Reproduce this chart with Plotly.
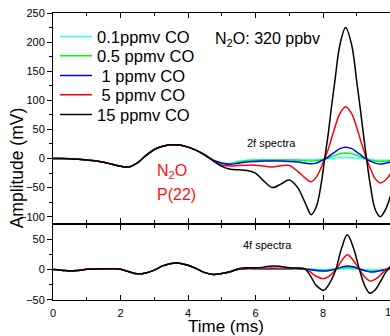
import plotly.graph_objects as go

# ---------------- data ----------------
series_names = ["0.1ppmv CO", "0.5 ppmv CO", " 1 ppmv CO", " 5 ppmv CO", "15 ppmv CO"]
series_colors = ["#33FFFF", "#00FF00", "#0000FF", "#FF0000", "#000000"]

# shared part (all concentrations overlap) for t <= 4.5 ms
t_head = [0, 0.25, 0.5, 0.75, 1.0, 1.25, 1.5, 1.75, 2.0, 2.25, 2.5, 2.75, 3.0,
          3.25, 3.5, 3.75, 4.0, 4.25, 4.5]
amp2f_head = [0, 0, -0.5, -1.5, -2.5, -4, -6.5, -10, -13.5, -14.5, -7.5, 5, 15.5,
              21, 23.5, 23, 19.5, 14, 6]
amp4f_head = [0, -1, -2.5, -1.5, 0.5, 1, 1.2, 1.2, 0.5, -3.5, -7, -5.5, -1,
              6, 10, 10.5, 7, 1.5, -5]

# 2f spectra, t > 4.5 ms
t_tail_2f = [4.75, 5.0, 5.25, 5.5, 5.75, 6.0, 6.25, 6.5, 6.75, 7.0, 7.25, 7.5, 7.65,
             7.8, 7.95, 8.05, 8.15, 8.25, 8.35, 8.5, 8.67, 8.85, 9.0, 9.1, 9.2,
             9.29, 9.4, 9.55, 9.7, 9.85, 10.0]
cyan_2f = [-3, -7.5, -8.5, -5, -3, -2.5, -2, -2, -2, -2, -2, -2, -2, -2, -1.5, -1,
           -0.5, 0, 0.5, 1.3, 1.7, 1.3, 0.5, 0, -0.5, -1, -1.5, -2.5, -3, -3, -2.5]
green_2f = [-3, -7.5, -9, -6, -3.5, -3, -2.5, -2.5, -2.5, -2.5, -3, -4, -4.5, -4,
            -2.5, -1, 1, 3, 5, 8.5, 9.5, 8.5, 5.5, 3, 1, -1, -3, -4.5, -5, -4.5, -4]
blue_2f = [-3, -8, -10, -8, -6, -5, -4.5, -4.5, -4.5, -5, -6, -8, -9, -8, -4, -1,
           2.5, 7, 11, 17, 19.5, 17, 11, 7, 2.5, -1, -4.5, -8, -9.5, -8, -6]
red_2f = [-4, -11.5, -13, -12, -11.5, -11.5, -13, -14.5, -12.5, -12, -22, -35, -40,
          -32, -15, 0, 15, 34, 53, 77, 89, 77, 53, 34, 15, 0, -17, -35, -42, -37, -26]
black_2f = [-4, -13.5, -18.5, -19.5, -20.5, -25, -39, -50, -44, -37, -50, -80, -96.5,
            -83, -42, 0, 40, 88, 132, 195, 225, 195, 132, 88, 40, 0, -45, -88, -100,
            -88, -64]

# 4f spectra, t > 4.5 ms
t_tail_4f = [4.75, 5.0, 5.25, 5.5, 5.75, 6.0, 6.25, 6.5, 6.75, 7.0, 7.25, 7.45, 7.6,
             7.8, 8.02, 8.2, 8.38, 8.55, 8.72, 8.9, 9.08, 9.25, 9.4, 9.55, 9.7, 9.85, 10.0]
cyan_4f = [-8, -6.5, -3.5, 0.5, 1.5, 1.5, 1.5, 1.5, 1.5, 1.5, 1.5, 1, 1, 0.5, 0, 0.5,
           0.5, 1, 1.5, 1, 0.5, 0, -0.5, -0.5, 0, 0.5, 1]
green_4f = [-8, -6.5, -3.5, 0.5, 1.5, 1.5, 1.5, 1.5, 1.5, 1.5, 1.5, 1, 0.5, -0.5, -1.5,
            -0.5, 0.5, 2.5, 3.5, 2.5, 0.5, -1.5, -2.5, -2, -1, 0, 1.5]
blue_4f = [-8, -6.5, -3.5, 0.5, 1.5, 1.5, 1.5, 1.5, 1.5, 1.5, 1.5, 1, 0, -1.5, -2.5,
           -1.5, 1, 4, 6, 4.5, 1, -2, -4, -3.5, -2, 0, 2]
red_4f = [-8, -6.5, -3.5, 1, 2, 2, 2, 2.5, 2, 2, 2, 1, -3, -11, -15, -10, 0, 14, 24.5,
          15, 0, -13, -19, -16, -9, -1, 5]
black_4f = [-8, -6.5, -3.5, 1.5, 3, 3, 4, 6, 5, 3, 2.5, 1.5, -8, -26, -34, -22, 0, 35,
            57, 36, 0, -28, -39, -33, -20, -5, 5]

tails_2f = [cyan_2f, green_2f, blue_2f, red_2f, black_2f]
tails_4f = [cyan_4f, green_4f, blue_4f, red_4f, black_4f]

# ---------------- figure ----------------
FONT = "Arial, Liberation Sans, sans-serif"
fig = go.Figure()

legend_ids = ["legend", "legend2", "legend3", "legend4", "legend5"]
legend_rows_y = [0.917, 0.850, 0.781, 0.714, 0.645]

for name, color, tail, lid in zip(series_names, series_colors, tails_2f, legend_ids):
    fig.add_trace(go.Scatter(
        x=t_head + t_tail_2f, y=amp2f_head + tail, name=name, mode="lines",
        line=dict(color=color, width=1.5, shape="spline", smoothing=1.0),
        xaxis="x2", yaxis="y2", showlegend=True, legend=lid))

for name, color, tail in zip(series_names, series_colors, tails_4f):
    fig.add_trace(go.Scatter(
        x=t_head + t_tail_4f, y=amp4f_head + tail, name=name, mode="lines",
        line=dict(color=color, width=1.5, shape="spline", smoothing=1.0),
        xaxis="x", yaxis="y", showlegend=False))

tickfont = dict(family=FONT, size=11, color="#000")
common_x = dict(range=[0, 9.985], showline=True, linecolor="black", linewidth=1,
                mirror="allticks", ticks="inside", ticklen=5, tickcolor="black",
                tick0=0, dtick=2, showgrid=False, zeroline=False,
                minor=dict(ticks="inside", ticklen=3, tickcolor="black", dtick=1, tick0=0,
                           showgrid=False),
                tickfont=tickfont)
common_y = dict(showline=True, linecolor="black", linewidth=1, mirror=False,
                ticks="outside", ticklen=5, tickcolor="black", showgrid=False,
                zeroline=False, tickfont=tickfont,
                minor=dict(ticks="outside", ticklen=3, tickcolor="black", dtick=25,
                           tick0=0, showgrid=False))

layout_legends = {}
for lid, ly in zip(legend_ids, legend_rows_y):
    layout_legends[lid] = dict(x=0.006, y=ly, xanchor="left", yanchor="middle",
                               bgcolor="rgba(0,0,0,0)",
                               font=dict(family=FONT, size=16.5, color="black"),
                               itemwidth=32)

fig.update_layout(
    width=390, height=336,
    margin=dict(l=53, r=0, t=13, b=36),
    paper_bgcolor="white", plot_bgcolor="white",
    font=dict(family=FONT, color="black"),
    xaxis=dict(anchor="y", domain=[0, 1], ticklabelstandoff=3, **common_x),
    yaxis=dict(anchor="x", domain=[0, 0.263], range=[-50, 74], tick0=0, dtick=50,
               **common_y),
    xaxis2=dict(anchor="y2", domain=[0, 1], showticklabels=False, **common_x),
    yaxis2=dict(anchor="x2", domain=[0.27, 1], range=[-110, 250], tick0=0, dtick=50,
                **common_y),
    showlegend=True,
    **layout_legends,
)

ann = [
    dict(text="N<sub>2</sub>O: 320 ppbv", x=0.475, y=0.909, xanchor="left",
         yanchor="middle", font=dict(size=16)),
    dict(text="2f spectra", x=0.649, y=0.546, xanchor="center", yanchor="middle",
         font=dict(size=11)),
    dict(text="4f spectra", x=0.636, y=0.192, xanchor="center", yanchor="middle",
         font=dict(size=11)),
    dict(text="N<sub>2</sub>O", x=0.303, y=0.447, xanchor="left", yanchor="middle",
         font=dict(size=16, color="#FF1010")),
    dict(text="P(22)", x=0.303, y=0.369, xanchor="left", yanchor="middle",
         font=dict(size=16, color="#FF1010")),
    dict(text="Amplitude (mV)", x=-0.107, y=0.462, xanchor="center", yanchor="middle",
         textangle=-90, font=dict(size=17.5)),
    dict(text="Time (ms)", x=0.513, y=-0.092, xanchor="center", yanchor="middle",
         font=dict(size=17)),
    dict(text="10", x=1.0015, y=-0.042, xanchor="center", yanchor="middle",
         font=tickfont),
]
for a in ann:
    a.update(xref="paper", yref="paper", showarrow=False)
    a.setdefault("font", {})
    a["font"].setdefault("family", FONT)
fig.update_layout(annotations=ann)

fig.write_html("out.html")
